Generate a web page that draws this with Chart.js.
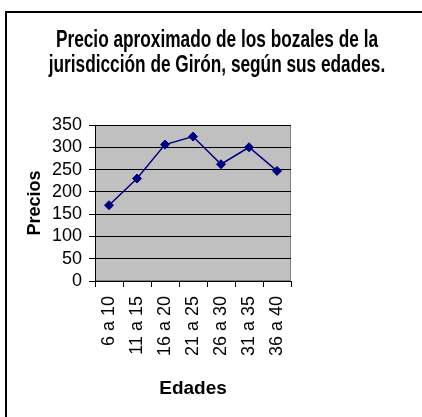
<!DOCTYPE html>
<html>
<head>
<meta charset="utf-8">
<script src="https://cdn.jsdelivr.net/npm/chart.js@4/dist/chart.umd.min.js"></script>
<style>
  html, body { margin: 0; padding: 0; background: #fff; }
  #wrap { position: relative; width: 422px; height: 417px; }
  #frame {
    position: absolute; left: 5px; top: 11px; right: 0; bottom: 0;
    border-top: 2px solid #000; border-left: 2px solid #000;
    pointer-events: none;
  }
</style>
</head>
<body>
<div id="wrap">
  <canvas id="lineChart" width="422" height="417"></canvas>
  <div id="frame"></div>
</div>
<script>
// categories and values
const edades = ['6 a 10', '11 a 15', '16 a 20', '21 a 25', '26 a 30', '31 a 35', '36 a 40'];
const precios = [170, 230, 306, 324, 262, 300, 247];
const tituloLineas = ['Precio aproximado de los bozales de la', 'jurisdicción de Girón, según sus edades.'];

const FONT = "'Liberation Sans', Arial, sans-serif";

// gray plot background like the old Excel chart
const plotBg = {
  id: 'plotBg',
  beforeDraw(chart) {
    const { ctx, chartArea: a } = chart;
    ctx.save();
    ctx.fillStyle = '#c0c0c0';
    ctx.fillRect(a.left, a.top, a.right - a.left, a.bottom - a.top);
    ctx.strokeStyle = '#808080';
    ctx.lineWidth = 1;
    ctx.strokeRect(a.left + 0.5, a.top + 0.5, a.right - a.left - 1, a.bottom - a.top - 1);
    ctx.restore();
  }
};

// the title is a narrow, tall bold face, so draw it squeezed
const narrowTitle = {
  id: 'narrowTitle',
  afterDraw(chart) {
    const { ctx } = chart;
    ctx.save();
    ctx.fillStyle = '#000';
    ctx.font = 'bold 23px ' + FONT;
    ctx.textAlign = 'center';
    ctx.textBaseline = 'alphabetic';
    ctx.translate(217, 0);
    ctx.scale(0.75, 1);
    tituloLineas.forEach((t, i) => ctx.fillText(t, 0, 47 + i * 25));
    ctx.restore();
  }
};

const ctx = document.getElementById('lineChart');
new Chart(ctx, {
  type: 'line',
  data: {
    labels: edades,
    datasets: [{
      data: precios,
      borderColor: '#000080',
      backgroundColor: '#000080',
      borderWidth: 1.5,
      pointStyle: 'rectRot',
      pointRadius: 4.5,
      pointBorderWidth: 1,
      tension: 0,
      fill: false
    }]
  },
  options: {
    responsive: false,
    animation: false,
    layout: { padding: { left: 24, right: 131, top: 125, bottom: 17 } },
    plugins: {
      legend: { display: false },
      tooltip: { enabled: false },
      title: { display: false }
    },
    scales: {
      x: {
        offset: true,
        grid: {
          offset: true,
          drawOnChartArea: false,
          color: '#000',
          tickColor: '#000',
          tickLength: 6
        },
        border: { color: '#000', width: 1 },
        ticks: {
          color: '#000',
          font: { family: FONT, size: 18 },
          minRotation: 90,
          maxRotation: 90,
          padding: 9,
          autoSkip: false
        },
        title: {
          display: true,
          text: 'Edades',
          color: '#000',
          font: { family: FONT, size: 19, weight: 'bold' },
          padding: { top: 6, bottom: 0 }
        },
        afterFit(scale) { scale.height = 119; }
      },
      y: {
        min: 0,
        max: 350,
        ticks: {
          stepSize: 50,
          autoSkip: false,
          color: '#000',
          font: { family: FONT, size: 18 },
          padding: 7
        },
        grid: {
          color: '#000',
          tickColor: '#000',
          tickLength: 6,
          lineWidth: 1
        },
        border: { color: '#000', width: 1 },
        title: {
          display: true,
          text: 'Precios',
          color: '#000',
          font: { family: FONT, size: 18, weight: 'bold' },
          padding: 0
        },
        afterFit(scale) { scale.width = 71; }
      }
    }
  },
  plugins: [plotBg, narrowTitle]
});
</script>
</body>
</html>
